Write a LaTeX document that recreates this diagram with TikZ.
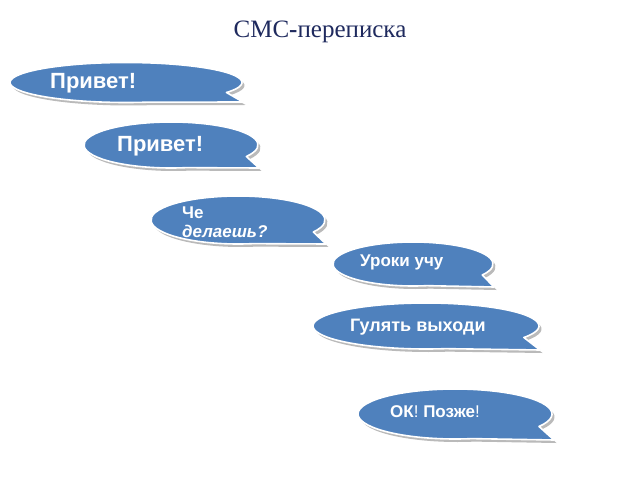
\documentclass[tikz,border=0pt]{standalone}
\usepackage{fontspec}
\setmainfont{Liberation Serif}
\newfontfamily\bubblefont{Liberation Sans}
\definecolor{bblue}{HTML}{4F81BD}
\definecolor{titlec}{HTML}{1F2A5E}
\tikzset{
  bfill/.style={fill=bblue, draw=white, line width=1.6pt, line join=round},
  bshadow/.style={fill=black!45, opacity=0.6},
  btxt/.style={text=white, font=\bubblefont\bfseries\fontsize{17}{21}\selectfont, inner sep=0pt},
}
\newcommand\bubble[6]{%
  \fill[bshadow] (#1+2.5,480-#2-3) ++(-30:#3 and #4) arc[start angle=-30,end angle=280,x radius=#3,y radius=#4] -- (#5+2.5,480-#6-3) -- cycle;
  \filldraw[bfill] (#1,480-#2) ++(-30:#3 and #4) arc[start angle=-30,end angle=280,x radius=#3,y radius=#4] -- (#5,480-#6) -- cycle;
}
\begin{document}
\begin{tikzpicture}[x=1pt,y=1pt]
\useasboundingbox[fill=white] (0,0) rectangle (640,480);
\node[text=titlec, font=\fontsize{25}{28}\selectfont, anchor=base] (title) at (320,480-38) {СМС\textbf{-}переписка};
\bubble{126}{82.5}{116}{20}{243}{102}
\node[btxt, font=\bubblefont\bfseries\fontsize{22}{24}\selectfont, anchor=base west] (t1) at (50,480-89) {Привет!};
\bubble{171}{145}{87}{23}{259}{168}
\node[btxt, font=\bubblefont\bfseries\fontsize{22}{24}\selectfont, anchor=base west] (t2) at (117,480-152) {Привет!};
\bubble{238}{220}{87}{24}{326}{244}
\node[btxt, anchor=base west] (t3a) at (182,480-219) {Че};
\node[btxt, anchor=base west] (t3b) at (182,480-238) {\textit{делаешь?}};
\bubble{413}{264}{80}{22}{494}{287}
\node[btxt, anchor=base west] (t4) at (360,480-266) {Уроки учу};
\bubble{426}{326}{113}{23}{540}{350}
\node[btxt, font=\bubblefont\bfseries\fontsize{18}{21}\selectfont, anchor=base west] (t5) at (350,480-331) {Гулять выходи};
\bubble{455}{414}{97}{25}{554}{440}
\node[btxt, anchor=base west] (t6) at (390,480-417) {ОК\textmd{!} Позже\textmd{!}};
\end{tikzpicture}
\end{document}
